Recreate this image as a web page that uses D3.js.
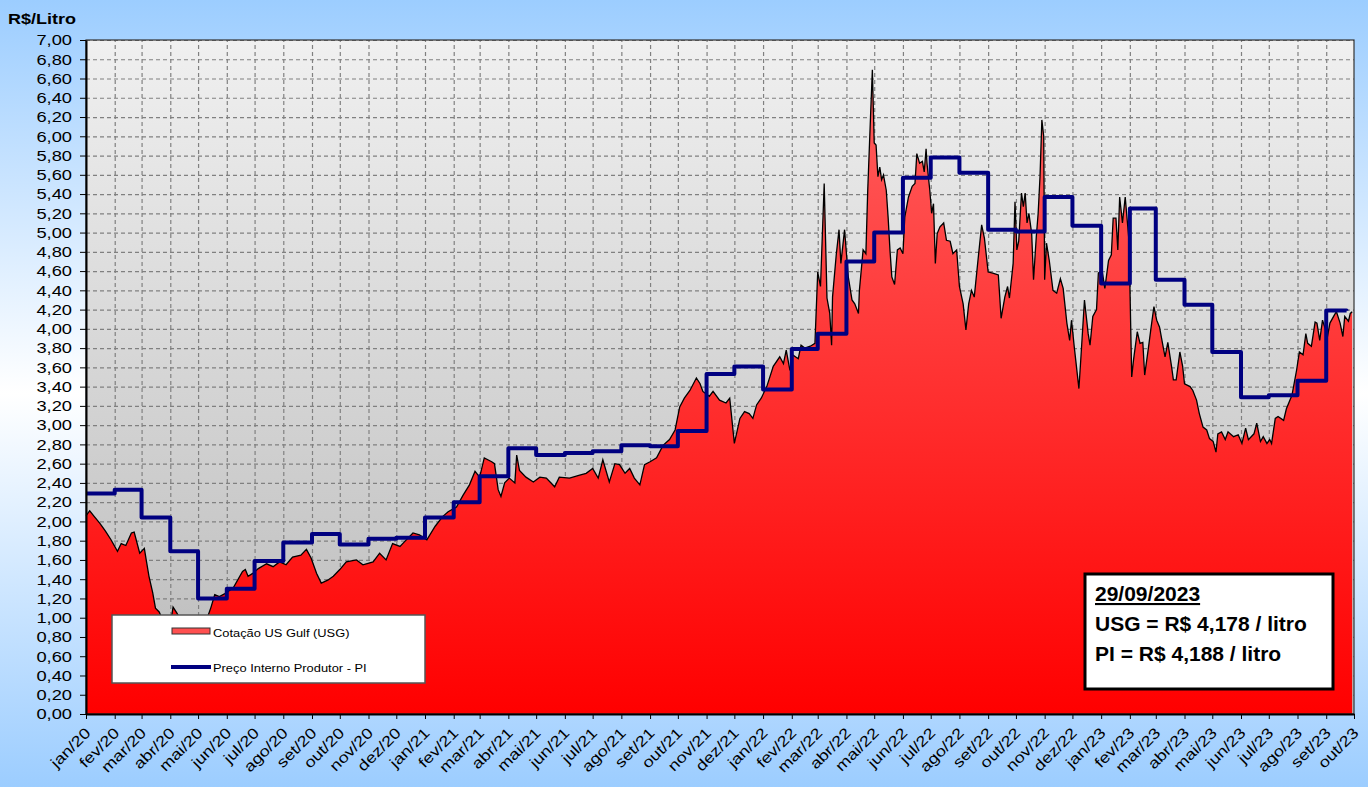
<!DOCTYPE html>
<html>
<head>
<meta charset="utf-8">
<script src="https://cdn.jsdelivr.net/npm/d3@7"></script>
<style>
  body { margin: 0; }
  svg { display: block; font-family: "Liberation Sans", Arial, sans-serif; }
</style>
</head>
<body>
<svg width="1368" height="787"></svg>
<script>
// Cotação US Gulf (USG) - R$/litro, leitura do gráfico
const usgSeries = [
  ["2020-01-01",2.06],["2020-01-05",2.11],["2020-01-10",2.05],["2020-01-16",1.98],["2020-01-22",1.90],["2020-01-28",1.81],
  ["2020-02-04",1.69],["2020-02-08",1.77],["2020-02-13",1.75],["2020-02-19",1.88],["2020-02-22",1.89],["2020-02-28",1.67],
  ["2020-03-04",1.72],["2020-03-06",1.60],["2020-03-09",1.43],["2020-03-13",1.26],["2020-03-16",1.10],["2020-03-20",1.06],
  ["2020-03-25",0.95],["2020-04-01",0.92],["2020-04-04",1.11],["2020-04-08",1.05],["2020-04-14",0.95],["2020-04-22",0.88],
  ["2020-04-29",0.92],["2020-05-06",0.98],["2020-05-11",1.00],["2020-05-15",1.11],["2020-05-19",1.24],["2020-05-24",1.22],
  ["2020-05-30",1.25],["2020-06-08",1.31],["2020-06-18",1.48],["2020-06-21",1.50],["2020-06-24",1.43],["2020-06-29",1.46],
  ["2020-07-05",1.51],["2020-07-14",1.56],["2020-07-21",1.53],["2020-07-28",1.58],["2020-08-04",1.55],["2020-08-11",1.63],
  ["2020-08-20",1.65],["2020-08-26",1.71],["2020-08-31",1.62],["2020-09-06",1.46],["2020-09-11",1.36],["2020-09-18",1.39],
  ["2020-09-24",1.43],["2020-10-01",1.50],["2020-10-08",1.58],["2020-10-19",1.60],["2020-10-26",1.55],["2020-11-06",1.58],
  ["2020-11-13",1.67],["2020-11-20",1.60],["2020-11-27",1.77],["2020-12-05",1.74],["2020-12-10",1.79],["2020-12-19",1.88],
  ["2020-12-26",1.86],
  ["2021-01-03",1.81],["2021-01-12",1.95],["2021-01-20",2.05],["2021-01-26",2.10],["2021-02-04",2.15],["2021-02-11",2.27],
  ["2021-02-18",2.38],["2021-02-24",2.52],["2021-03-01",2.46],["2021-03-06",2.66],["2021-03-14",2.62],["2021-03-17",2.60],
  ["2021-03-21",2.33],["2021-03-24",2.26],["2021-03-28",2.40],["2021-04-02",2.45],["2021-04-08",2.40],["2021-04-10",2.69],
  ["2021-04-13",2.53],["2021-04-20",2.46],["2021-04-28",2.41],["2021-05-05",2.46],["2021-05-12",2.45],["2021-05-21",2.36],
  ["2021-05-26",2.46],["2021-06-06",2.45],["2021-06-17",2.48],["2021-06-24",2.50],["2021-07-01",2.55],["2021-07-07",2.45],
  ["2021-07-12",2.64],["2021-07-19",2.41],["2021-07-25",2.60],["2021-07-30",2.59],["2021-08-05",2.50],["2021-08-10",2.55],
  ["2021-08-15",2.45],["2021-08-21",2.38],["2021-08-26",2.59],["2021-09-01",2.62],["2021-09-08",2.66],["2021-09-15",2.79],
  ["2021-09-22",2.85],["2021-09-28",2.95],["2021-10-03",3.19],["2021-10-08",3.28],["2021-10-14",3.36],["2021-10-21",3.49],
  ["2021-10-25",3.43],["2021-10-28",3.35],["2021-11-04",3.30],["2021-11-08",3.35],["2021-11-15",3.26],["2021-11-22",3.23],
  ["2021-11-26",3.28],["2021-12-01",2.81],["2021-12-07",3.07],["2021-12-12",3.14],["2021-12-17",3.12],["2021-12-21",3.07],
  ["2021-12-25",3.21],["2021-12-30",3.28],
  ["2022-01-05",3.40],["2022-01-12",3.61],["2022-01-19",3.71],["2022-01-23",3.64],["2022-01-26",3.78],["2022-01-30",3.57],
  ["2022-02-02",3.73],["2022-02-08",3.69],["2022-02-11",3.83],["2022-02-15",3.80],["2022-02-21",3.82],["2022-02-26",3.85],
  ["2022-03-01",4.59],["2022-03-04",4.44],["2022-03-08",5.51],["2022-03-11",4.32],["2022-03-14",4.16],["2022-03-16",3.83],
  ["2022-03-17",4.33],["2022-03-21",4.77],["2022-03-24",5.03],["2022-03-26",4.68],["2022-03-30",5.03],["2022-04-03",4.54],
  ["2022-04-07",4.30],["2022-04-10",4.26],["2022-04-14",4.16],["2022-04-15",4.40],["2022-04-19",4.82],["2022-04-22",4.78],
  ["2022-04-24",5.44],["2022-04-27",6.20],["2022-04-29",6.69],["2022-05-01",5.93],["2022-05-03",5.91],["2022-05-05",5.58],
  ["2022-05-07",5.68],["2022-05-09",5.55],["2022-05-11",5.60],["2022-05-14",5.44],["2022-05-16",5.16],["2022-05-18",4.82],
  ["2022-05-20",4.54],["2022-05-23",4.46],["2022-05-26",4.82],["2022-05-29",4.84],["2022-06-01",4.78],["2022-06-03",5.16],
  ["2022-06-07",5.37],["2022-06-11",5.48],["2022-06-14",5.51],["2022-06-16",5.82],["2022-06-19",5.72],["2022-06-22",5.74],
  ["2022-06-24",5.63],["2022-06-26",5.87],["2022-06-27",5.72],["2022-06-30",5.44],["2022-07-02",5.20],["2022-07-04",5.30],
  ["2022-07-06",4.68],["2022-07-08",4.99],["2022-07-11",5.06],["2022-07-15",5.10],["2022-07-18",4.92],["2022-07-22",4.91],
  ["2022-07-25",4.78],["2022-07-29",4.82],["2022-08-01",4.44],["2022-08-05",4.26],["2022-08-08",3.99],["2022-08-11",4.26],
  ["2022-08-14",4.40],["2022-08-17",4.33],["2022-08-21",4.71],["2022-08-25",5.08],["2022-08-28",4.94],["2022-09-01",4.59],
  ["2022-09-06",4.58],["2022-09-12",4.56],["2022-09-15",4.11],["2022-09-19",4.33],["2022-09-22",4.44],["2022-09-24",4.32],
  ["2022-09-28",4.68],["2022-09-30",5.32],["2022-10-02",4.82],["2022-10-04",4.91],["2022-10-07",5.41],["2022-10-09",5.27],
  ["2022-10-11",5.41],["2022-10-13",5.10],["2022-10-15",5.20],["2022-10-18",4.99],["2022-10-20",4.51],["2022-10-23",4.96],
  ["2022-10-25",5.20],["2022-10-27",5.58],["2022-10-29",6.17],["2022-10-31",6.00],["2022-11-01",4.51],["2022-11-03",4.89],
  ["2022-11-06",4.71],["2022-11-10",4.40],["2022-11-14",4.37],["2022-11-18",4.52],["2022-11-21",4.42],["2022-11-25",4.06],
  ["2022-11-28",3.88],["2022-11-30",4.09],["2022-12-03",3.81],["2022-12-08",3.38],["2022-12-10",3.68],["2022-12-14",4.30],
  ["2022-12-18",3.95],["2022-12-20",3.83],["2022-12-23",4.13],["2022-12-27",4.20],["2022-12-29",4.58],
  ["2023-01-02",4.61],["2023-01-05",4.42],["2023-01-09",4.71],["2023-01-12",4.77],["2023-01-14",5.15],["2023-01-17",5.15],
  ["2023-01-19",4.82],["2023-01-21",5.37],["2023-01-24",5.10],["2023-01-27",5.37],["2023-01-31",4.92],["2023-02-01",4.47],
  ["2023-02-03",3.50],["2023-02-05",3.68],["2023-02-09",3.97],["2023-02-12",3.85],["2023-02-15",3.86],["2023-02-17",3.52],
  ["2023-02-21",3.80],["2023-02-24",4.02],["2023-02-27",4.23],["2023-03-02",4.09],["2023-03-05",4.02],["2023-03-09",3.81],
  ["2023-03-11",3.71],["2023-03-14",3.86],["2023-03-18",3.61],["2023-03-20",3.47],["2023-03-23",3.47],["2023-03-27",3.76],
  ["2023-03-30",3.61],["2023-04-01",3.43],["2023-04-07",3.40],["2023-04-10",3.36],["2023-04-14",3.26],["2023-04-17",3.12],
  ["2023-04-21",2.98],["2023-04-25",2.95],["2023-04-28",2.86],["2023-05-02",2.83],["2023-05-05",2.72],["2023-05-07",2.91],
  ["2023-05-11",2.93],["2023-05-15",2.85],["2023-05-18",2.93],["2023-05-24",2.88],["2023-05-29",2.90],["2023-06-02",2.81],
  ["2023-06-06",2.97],["2023-06-09",2.85],["2023-06-15",2.91],["2023-06-18",3.02],["2023-06-22",2.83],["2023-06-25",2.88],
  ["2023-06-29",2.81],["2023-07-02",2.85],["2023-07-04",2.81],["2023-07-08",3.07],["2023-07-11",3.09],["2023-07-17",3.05],
  ["2023-07-20",3.17],["2023-07-26",3.31],["2023-07-31",3.57],["2023-08-03",3.76],["2023-08-07",3.73],["2023-08-10",3.95],
  ["2023-08-12",3.85],["2023-08-16",3.82],["2023-08-20",4.07],["2023-08-22",4.06],["2023-08-25",3.88],["2023-08-28",4.09],
  ["2023-08-31",4.00],["2023-09-02",3.90],["2023-09-05",4.06],["2023-09-09",4.13],["2023-09-12",4.18],["2023-09-16",4.06],
  ["2023-09-19",3.92],["2023-09-21",4.13],["2023-09-25",4.08],["2023-09-27",4.16],["2023-09-29",4.178]
];

// Preço Interno Produtor - PI (valor vigente a partir do início de cada mês)
const piMonths = [
  "2020-01","2020-02","2020-03","2020-04","2020-05","2020-06","2020-07","2020-08","2020-09","2020-10","2020-11","2020-12",
  "2021-01","2021-02","2021-03","2021-04","2021-05","2021-06","2021-07","2021-08","2021-09","2021-10","2021-11","2021-12",
  "2022-01","2022-02","2022-03","2022-04","2022-05","2022-06","2022-07","2022-08","2022-09","2022-10","2022-11","2022-12",
  "2023-01","2023-02","2023-03","2023-04","2023-05","2023-06","2023-07","2023-08","2023-09"
];
const piValues = [
  2.29, 2.33, 2.04, 1.69, 1.20, 1.30, 1.59, 1.78, 1.87, 1.76, 1.82, 1.83,
  2.04, 2.20, 2.47, 2.76, 2.69, 2.71, 2.73, 2.79, 2.78, 2.94, 3.53, 3.61,
  3.37, 3.79, 3.95, 4.70, 5.00, 5.57, 5.78, 5.62, 5.03, 5.01, 5.37, 5.07,
  4.47, 5.25, 4.51, 4.25, 3.76, 3.29, 3.31, 3.46, 4.19
];
const lastPiDate = "2023-09-23";
const lastPi = 4.188;

const monthNames = ["jan","fev","mar","abr","mai","jun","jul","ago","set","out","nov","dez"];
const yTicks = d3.range(0, 36).map(i => i * 0.2);

const legendItems = ["Cotação US Gulf (USG)", "Preço Interno Produtor - PI"];
const noteLines = ["29/09/2023", "USG = R$ 4,178 / litro", "PI = R$ 4,188 / litro"];

const svg = d3.select("svg");
const width = +svg.attr("width");
const height = +svg.attr("height");
const margin = { top: 40, right: 14, bottom: 73, left: 86 };
const chartWidth = width - margin.left - margin.right;
const chartHeight = height - margin.top - margin.bottom;

const parse = d3.timeParse("%Y-%m-%d");
const parseMonth = d3.timeParse("%Y-%m");
const usg = usgSeries.map(d => ({ date: parse(d[0]), value: d[1] }));
const pi = piMonths.map((m, i) => ({ date: parseMonth(m), value: piValues[i] }));
pi.push({ date: parse(lastPiDate), value: lastPi });

// gradientes
const defs = svg.append("defs");
const bgGrad = defs.append("linearGradient").attr("id", "bgGrad").attr("x1", 0).attr("y1", 0).attr("x2", 0).attr("y2", 1);
bgGrad.append("stop").attr("offset", "0%").attr("stop-color", "#9ccdff");
bgGrad.append("stop").attr("offset", "50%").attr("stop-color", "#ffffff");
bgGrad.append("stop").attr("offset", "100%").attr("stop-color", "#9ccdff");

const plotGrad = defs.append("linearGradient").attr("id", "plotGrad").attr("x1", 0).attr("y1", 0).attr("x2", 0).attr("y2", 1);
plotGrad.append("stop").attr("offset", "0%").attr("stop-color", "#f0f0f0");
plotGrad.append("stop").attr("offset", "100%").attr("stop-color", "#bababa");

const redGrad = defs.append("linearGradient").attr("id", "redGrad")
  .attr("gradientUnits", "userSpaceOnUse").attr("x1", 0).attr("y1", 0).attr("x2", 0).attr("y2", chartHeight);
redGrad.append("stop").attr("offset", "0%").attr("stop-color", "#ff6464");
redGrad.append("stop").attr("offset", "100%").attr("stop-color", "#ff0000");

svg.append("rect").attr("width", width).attr("height", height).attr("fill", "url(#bgGrad)");

const g = svg.append("g").attr("transform", `translate(${margin.left},${margin.top})`);

const x = d3.scaleTime().domain([parse("2020-01-01"), parse("2023-10-01")]).range([0, chartWidth]);
const y = d3.scaleLinear().domain([0, 7]).range([chartHeight, 0]);
const monthTicks = d3.timeMonth.range(parse("2020-01-01"), parse("2023-10-02"));

g.append("rect").attr("width", chartWidth).attr("height", chartHeight).attr("fill", "url(#plotGrad)");

// grade tracejada
g.append("g")
  .call(d3.axisLeft(y).tickValues(yTicks.slice(1)).tickSize(-chartWidth).tickFormat(""))
  .call(s => s.select(".domain").remove())
  .selectAll("line").attr("stroke", "#808080").attr("stroke-width", 1.2).attr("stroke-dasharray", "4,3");
g.append("g")
  .attr("transform", `translate(0,${chartHeight})`)
  .call(d3.axisBottom(x).tickValues(monthTicks.slice(1, -1)).tickSize(-chartHeight).tickFormat(""))
  .call(s => s.select(".domain").remove())
  .selectAll("line").attr("stroke", "#808080").attr("stroke-width", 1.2).attr("stroke-dasharray", "4,3");

// área USG
const area = d3.area().x(d => x(d.date)).y0(y(0)).y1(d => y(d.value));
const line = d3.line().x(d => x(d.date)).y(d => y(d.value));
g.append("path").datum(usg).attr("d", area).attr("fill", "url(#redGrad)");
g.append("path").datum(usg).attr("d", line).attr("fill", "none").attr("stroke", "#000").attr("stroke-width", 1.3);

// linha PI
const stepLine = d3.line().x(d => x(d.date)).y(d => y(d.value)).curve(d3.curveStepAfter);
g.append("path").datum(pi).attr("d", stepLine).attr("fill", "none")
  .attr("stroke", "#000080").attr("stroke-width", 4).attr("stroke-linejoin", "round");

// moldura
g.append("rect").attr("width", chartWidth).attr("height", chartHeight)
  .attr("fill", "none").attr("stroke", "#333").attr("stroke-width", 1.2);

// eixos
const yAxis = g.append("g")
  .call(d3.axisLeft(y).tickValues(yTicks).tickSize(6).tickSizeOuter(0)
    .tickFormat(d => d.toFixed(2).replace(".", ",")));
yAxis.select(".domain").attr("stroke", "#000").attr("stroke-width", 2);
yAxis.selectAll("line").attr("stroke", "#000");
yAxis.selectAll("text")
  .attr("font-size", 15).attr("fill", "#000")
  .attr("x", -14 / 1.22).attr("transform", "scale(1.22,1)");

const xAxis = g.append("g")
  .attr("transform", `translate(0,${chartHeight})`)
  .call(d3.axisBottom(x).tickValues(monthTicks).tickSize(5).tickSizeOuter(0)
    .tickFormat(d => monthNames[d.getMonth()] + "/" + String(d.getFullYear()).slice(2)));
xAxis.select(".domain").attr("stroke", "#000").attr("stroke-width", 2);
xAxis.selectAll("line").attr("stroke", "#000");
xAxis.selectAll("text")
  .attr("font-size", 15).attr("fill", "#000")
  .attr("x", 0).attr("y", 0).attr("dy", 0)
  .attr("text-anchor", "end")
  .attr("transform", "translate(5,20) rotate(-45) scale(1.2,1)");

svg.append("text")
  .attr("transform", "translate(8,24) scale(1.2,1)")
  .attr("font-size", 15).attr("font-weight", "bold")
  .text("R$/Litro");

// legenda
const legend = svg.append("g").attr("transform", "translate(112,615)");
legend.append("rect").attr("width", 313).attr("height", 68)
  .attr("fill", "#fff").attr("stroke", "#555").attr("stroke-width", 1.5);
legend.append("rect").attr("x", 60).attr("y", 13).attr("width", 38).attr("height", 6)
  .attr("fill", "#ff5050").attr("stroke", "#333").attr("stroke-width", 1);
legend.append("line").attr("x1", 59).attr("x2", 99).attr("y1", 52).attr("y2", 52)
  .attr("stroke", "#000080").attr("stroke-width", 4);
legend.selectAll("text.item").data(legendItems).join("text")
  .attr("class", "item")
  .attr("transform", (d, i) => `translate(101,${i === 0 ? 22 : 57}) scale(1.12,1)`)
  .attr("font-size", 11.5).attr("fill", "#000")
  .text(d => d);

// caixa com valores do dia
const note = svg.append("g").attr("transform", "translate(1085,574)");
note.append("rect").attr("width", 248).attr("height", 115)
  .attr("fill", "#fff").attr("stroke", "#000").attr("stroke-width", 3);
note.selectAll("text").data(noteLines).join("text")
  .attr("x", 10)
  .attr("y", (d, i) => 27 + i * 30)
  .attr("font-size", 21).attr("font-weight", "bold").attr("fill", "#000")
  .attr("text-decoration", (d, i) => i === 0 ? "underline" : null)
  .text(d => d);
</script>
</body>
</html>
